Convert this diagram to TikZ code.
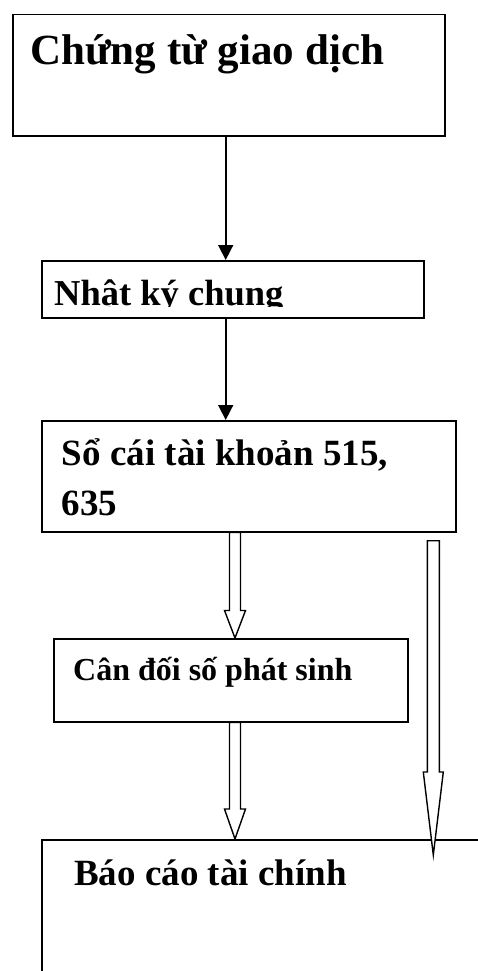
\documentclass[tikz,border=0pt]{standalone}
\usepackage{fontspec}
\setmainfont{Liberation Serif}
\usetikzlibrary{arrows.meta,calc}
\tikzset{
  box/.style={draw, line width=1.5pt, rectangle, inner sep=0pt, anchor=north west},
  lbl/.style={anchor=base west, inner sep=0pt, font=\bfseries},
  flow/.style={line width=1.6pt, -{Triangle[width=15pt,length=15pt]}},
  hollow/.style={line width=1.4pt, fill=white, line join=miter},
}
\newcommand\fsz[1]{\fontsize{#1}{#1}\selectfont}
% outlined block arrow: #1 start, #2 tip, #3 shaft width, #4 head width, #5 head length
\newcommand\hollowarrow[5]{%
  \draw[hollow] let \p1=(#1), \p2=(#2) in
    (\x1-#3/2,\y1) -- (\x1-#3/2,\y2+#5) -- (\x1-#4/2,\y2+#5) -- (\x1,\y2)
    -- (\x1+#4/2,\y2+#5) -- (\x1+#3/2,\y2+#5) -- (\x1+#3/2,\y1) -- cycle;}
\begin{document}
\begin{tikzpicture}[x=1pt,y=-1pt]
  \useasboundingbox (0,0) rectangle (478,971);
  \clip (0,0) rectangle (478,971);

  % boxes
  \node[box, minimum width=432pt, minimum height=121.3pt] (b1) at (12,13.7) {};
  \node[box, minimum width=382pt, minimum height=57pt]    (b2) at (41,260) {};
  \node[box, minimum width=414pt, minimum height=111pt]   (b3) at (41,420) {};
  \node[box, minimum width=354pt, minimum height=83pt]    (b4) at (53,638) {};
  \node[box, minimum width=500pt, minimum height=200pt]   (b5) at (41,839) {};

  % labels
  \node[lbl, font=\bfseries\fsz{43}] (t1) at (30,65) {Chứng từ giao dịch};
  \begin{scope}
    \clip (41,260) rectangle (423,306.3);
    \node[lbl, font=\bfseries\fsz{36.5}] (t2) at (54,305) {Nhật ký chung};
  \end{scope}
  \node[lbl, font=\bfseries\fsz{37}] (t3) at (61.7,465.7) {Sổ cái tài khoản 515,};
  \node[lbl, font=\bfseries\fsz{37}] (t3b) at (61.7,515) {635};
  \node[lbl, font=\bfseries\fsz{32}] (t4) at (73,680) {Cân đối số phát sinh};
  \node[lbl, font=\bfseries\fsz{37}] (t5) at (74,885) {Báo cáo tài chính};

  % connector columns
  \coordinate (sx) at (225.7,0);
  \coordinate (ax) at (235,0);
  \coordinate (rs) at (433.3,540.7);
  \coordinate (rt) at (433.3,855);

  % solid arrows
  \draw[flow] (sx |- b1.south) -- (sx |- b2.north);
  \draw[flow] (sx |- b2.south) -- (sx |- b3.north);

  % outlined arrows
  \hollowarrow{ax |- b3.south}{ax |- b4.north}{11pt}{21pt}{27.5pt}
  \hollowarrow{ax |- b4.south}{ax |- b5.north}{11pt}{21pt}{30pt}
  \hollowarrow{rs}{rt}{12pt}{20pt}{83pt}
\end{tikzpicture}
\end{document}
